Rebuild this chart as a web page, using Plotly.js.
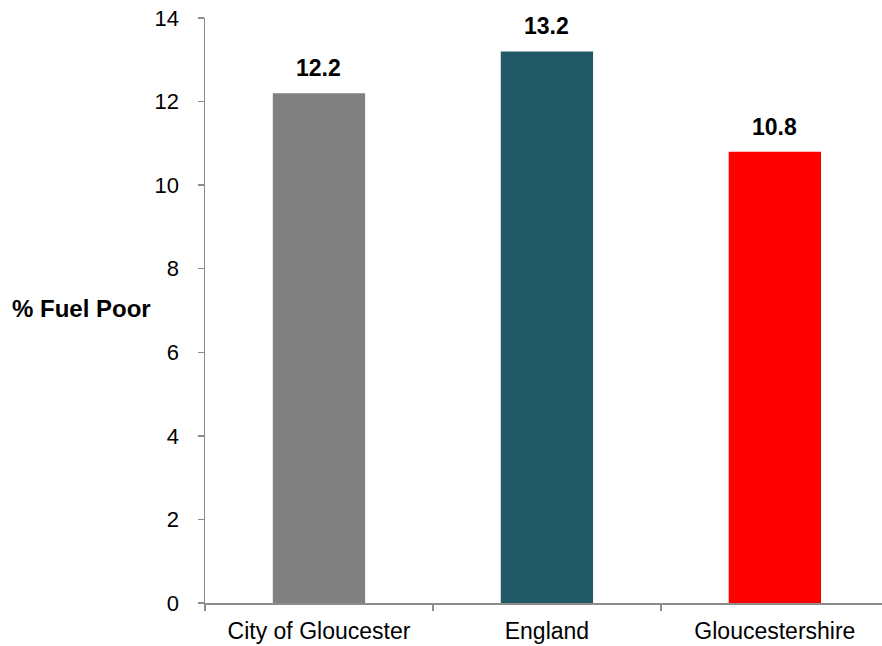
<!DOCTYPE html>
<html>
<head>
<meta charset="utf-8">
<script src="https://cdn.plot.ly/plotly-3.0.1.min.js"></script>
<style>html,body{margin:0;padding:0;background:#fff;}#chart{width:882px;height:646px;}</style>
</head>
<body>
<div id="chart"></div>
<script>
const categories = ["City of Gloucester", "England", "Gloucestershire"];
const values = [12.2, 13.2, 10.8];
const colors = ["#808080", "#225966", "#FF0000"];
const yTitle = "% Fuel Poor";

const font = "Liberation Sans, Arial, sans-serif";
const trace = {
  type: "bar",
  x: categories,
  y: values,
  marker: {color: colors},
  width: 0.405,
  hoverinfo: "none"
};
const labelAnns = categories.map((c, i) => ({
  x: c, y: values[i], xref: "x", yref: "y",
  text: "<b>" + values[i].toFixed(1) + "</b>",
  showarrow: false, yanchor: "bottom", yshift: 10,
  font: {family: font, size: 23, color: "#000"}
}));
const layout = {
  width: 882, height: 646,
  margin: {l: 205, r: 0, t: 18, b: 43},
  paper_bgcolor: "#fff", plot_bgcolor: "#fff",
  showlegend: false,
  xaxis: {
    type: "category",
    range: [-0.5, 2.47],
    showline: true, linecolor: "#8c8c8c", linewidth: 1.5,
    ticks: "outside", tickson: "boundaries", ticklen: 6, tickcolor: "#8c8c8c", tickwidth: 1.5,
    tickfont: {family: font, size: 23, color: "#000"},
    ticklabelstandoff: 7,
    showgrid: false, zeroline: false
  },
  yaxis: {
    range: [0, 14], dtick: 2,
    showline: true, linecolor: "#8c8c8c", linewidth: 1.5,
    ticks: "outside", ticklen: 6, tickcolor: "#8c8c8c", tickwidth: 1.5,
    tickfont: {family: font, size: 22, color: "#000"},
    ticklabelstandoff: 14,
    showgrid: false, zeroline: false
  },
  annotations: labelAnns.concat([{
    xref: "paper", yref: "paper", x: -0.077, y: 0.503,
    xanchor: "right", yanchor: "middle",
    text: "<b>" + yTitle + "</b>", showarrow: false,
    font: {family: font, size: 24, color: "#000"}
  }])
};
Plotly.newPlot("chart", [trace], layout, {displayModeBar: false, staticPlot: true});
</script>
</body>
</html>
